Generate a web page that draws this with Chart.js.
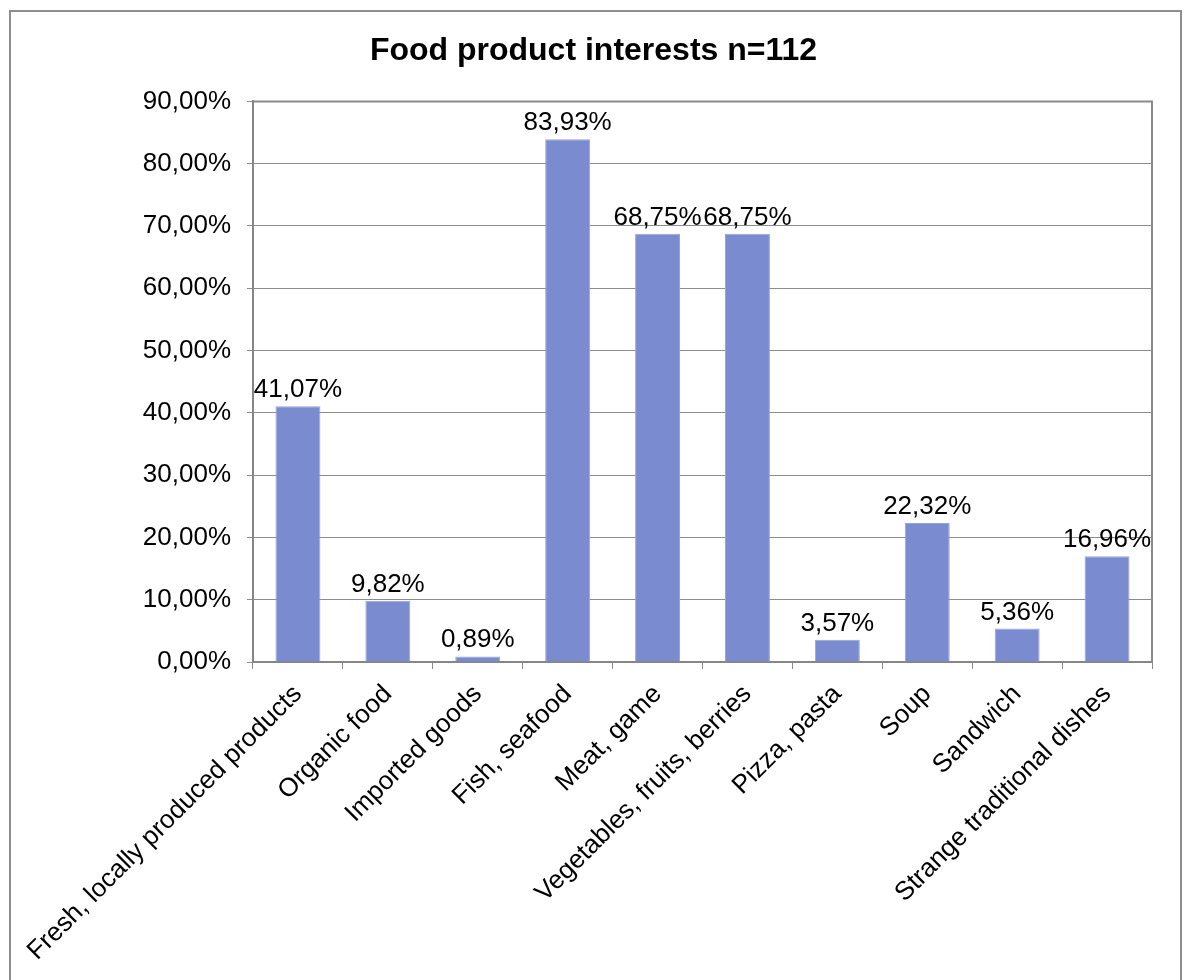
<!DOCTYPE html>
<html>
<head>
<meta charset="utf-8">
<title>Food product interests</title>
<script src="https://cdn.jsdelivr.net/npm/chart.js@4/dist/chart.umd.min.js"></script>
<style>
    html, body { margin: 0; padding: 0; background: #fff; overflow: hidden; }
    #wrap { position: relative; width: 1187px; height: 980px; }
    #frame {
        position: absolute; left: 9px; top: 10px; width: 1173px; height: 1000px;
        box-sizing: border-box; border: 2px solid #8e8e8e; pointer-events: none;
    }
</style>
</head>
<body>
<div id="wrap">
    <canvas id="graph" width="1187" height="980"></canvas>
    <div id="frame"></div>
</div>
<script>
// survey answers, share of respondents in %
const categories = [
    'Fresh, locally produced products',
    'Organic food',
    'Imported goods',
    'Fish, seafood',
    'Meat, game',
    'Vegetables, fruits, berries',
    'Pizza, pasta',
    'Soup',
    'Sandwich',
    'Strange traditional dishes'
];
const shares = [41.07, 9.82, 0.89, 83.93, 68.75, 68.75, 3.57, 22.32, 5.36, 16.96];
const yMax = 90;
const yStep = 10;

function percent(v) {
    return v.toFixed(2).replace('.', ',') + '%';
}

// value above each bar
const valueLabels = {
    id: 'valueLabels',
    afterDatasetsDraw(chart) {
        const ctx = chart.ctx;
        const meta = chart.getDatasetMeta(0);
        ctx.save();
        ctx.font = '26px "Liberation Sans", Arial, sans-serif';
        ctx.fillStyle = '#000';
        ctx.textAlign = 'center';
        ctx.textBaseline = 'alphabetic';
        meta.data.forEach((bar, i) => {
            ctx.fillText(percent(shares[i]), bar.x, bar.y - 9);
        });
        ctx.restore();
    }
};

// top and right edge of the plot area
const plotFrame = {
    id: 'plotFrame',
    beforeDatasetsDraw(chart) {
        const a = chart.chartArea;
        const ctx = chart.ctx;
        ctx.save();
        ctx.strokeStyle = '#8a8a8a';
        ctx.lineWidth = 2;
        ctx.beginPath();
        ctx.moveTo(a.left, a.top);
        ctx.lineTo(a.right, a.top);
        ctx.lineTo(a.right, a.bottom);
        ctx.stroke();
        ctx.restore();
    }
};

Chart.defaults.font.family = '"Liberation Sans", Arial, sans-serif';
Chart.defaults.font.size = 26;
Chart.defaults.color = '#000';

new Chart(document.getElementById('graph').getContext('2d'), {
    type: 'bar',
    data: {
        labels: categories,
        datasets: [{
            data: shares,
            backgroundColor: '#7b8bcf',
            borderColor: '#98a4dc',
            borderWidth: 1,
            categoryPercentage: 1,
            barPercentage: 0.5
        }]
    },
    options: {
        responsive: false,
        animation: false,
        devicePixelRatio: 1,
        plugins: {
            legend: { display: false },
            tooltip: { enabled: false },
            title: {
                display: true,
                text: 'Food product interests n=112',
                font: { size: 32, weight: 'bold' },
                color: '#000',
                padding: { top: 32, bottom: 31 }
            }
        },
        scales: {
            x: {
                grid: {
                    offset: true,
                    drawOnChartArea: false,
                    drawTicks: true,
                    tickLength: 7,
                    color: '#8a8a8a'
                },
                border: { color: '#868686', width: 2 },
                ticks: { minRotation: 45, maxRotation: 45, autoSkip: false, padding: 10 },
                afterFit(scale) { scale.height = 318; }
            },
            y: {
                min: 0,
                max: yMax,
                grid: { color: '#8c8c8c', tickLength: 6 },
                border: { color: '#868686', width: 2 },
                ticks: {
                    stepSize: yStep,
                    padding: 16,
                    callback: (v) => percent(v)
                },
                afterFit(scale) { scale.width = 253; }
            },
            // empty strip on the right of the plot
            spacer: {
                type: 'linear',
                position: 'right',
                display: true,
                grid: { display: false },
                border: { display: false },
                ticks: { display: false },
                afterFit(scale) { scale.width = 35; }
            }
        }
    },
    plugins: [valueLabels, plotFrame]
});
</script>
</body>
</html>
